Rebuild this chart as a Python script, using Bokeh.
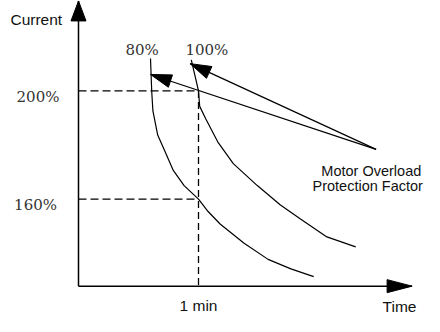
import numpy as np
from bokeh.plotting import figure
from bokeh.models import Range1d
from bokeh.core.properties import value
from bokeh.embed import file_html
from bokeh.resources import INLINE

# ---------------- data (time in minutes, current in % of rated) ----------------
curve_labels = ["80%", "100%"]
t_80 = [0.60, 0.61, 0.62, 0.66, 0.72, 0.79, 0.88, 1.00, 1.08, 1.18, 1.38, 1.58, 1.77, 1.96]
i_80 = [212.0, 200.0, 192.6, 183.7, 177.7, 170.6, 165.0, 160.0, 155.4, 150.8, 143.7, 137.7, 134.2, 131.3]
t_100 = [0.94, 1.00, 1.01, 1.06, 1.16, 1.29, 1.49, 1.68, 1.85, 2.07, 2.31]
i_100 = [211.5, 200.0, 194.3, 189.7, 181.2, 173.1, 165.0, 157.9, 152.6, 146.0, 142.3]

ref_time = 1.0
ref_time_label = "1 min"
ref_currents = [200, 160]
ref_current_labels = ["200%", "160%"]

origin_t, origin_i = 0.0, 127.8
time_axis_end = 2.78
current_axis_end = 233.3
x_title = "Time"
y_title = "Current"

pointer_tip_t = [0.93, 0.60]
pointer_tip_i = [210.1, 206.1]
pointer_tail_t, pointer_tail_i = 2.48, 178.4
note_lines = ["Motor Overload", "Protection Factor"]

# ---------------- figure ----------------
W, H = 424, 316
X0, X1 = -0.65, 2.8833
Y0, Y1 = 116.57, 233.46
SX = W / (X1 - X0)
SY = H / (Y1 - Y0)

p = figure(width=W, height=H, output_backend="svg", toolbar_location=None,
           x_axis_type=None, y_axis_type=None,
           x_range=Range1d(X0, X1), y_range=Range1d(Y0, Y1),
           min_border=0, outline_line_color=None)
p.grid.visible = False
p.background_fill_color = "white"
p.border_fill_color = "white"

SANS = value("Liberation Sans")
SERIF = value("DejaVu Serif")


def head(tip_t, tip_i, to_t, to_i, length, half):
    dx = (to_t - tip_t) * SX
    dy = (to_i - tip_i) * SY
    n = np.hypot(dx, dy)
    ux, uy = dx / n, dy / n
    bx, by = ux * length, uy * length
    px, py = -uy * half, ux * half
    xs = [tip_t, tip_t + (bx + px) / SX, tip_t + (bx - px) / SX]
    ys = [tip_i, tip_i + (by + py) / SY, tip_i + (by - py) / SY]
    return xs, ys


# dashed reference lines
for c in ref_currents:
    p.line([origin_t, ref_time], [c, c], line_color="black", line_width=1.3, line_dash="8 4")
p.line([ref_time, ref_time], [max(ref_currents), origin_i], line_color="black",
       line_width=1.3, line_dash="7 4")

# curves
p.line(t_80, i_80, line_color="black", line_width=1.2)
p.line(t_100, i_100, line_color="black", line_width=1.2)

# axes with arrowheads
p.line([origin_t, origin_t], [origin_i, current_axis_end], line_color="black", line_width=1.5)
p.line([origin_t, time_axis_end], [origin_i, origin_i], line_color="black", line_width=1.5)
hx, hy = head(origin_t, current_axis_end, origin_t, origin_i, 20, 7.5)
vx, vy = head(time_axis_end, origin_i, origin_t, origin_i, 25, 6.5)

# pointer arrows
px_list, py_list = [hx, vx], [hy, vy]
for tt, ti in zip(pointer_tip_t, pointer_tip_i):
    p.line([pointer_tail_t, tt], [pointer_tail_i, ti], line_color="black", line_width=1.2)
    ax, ay = head(tt, ti, pointer_tail_t, pointer_tail_i, 21, 6.5)
    px_list.append(ax)
    py_list.append(ay)
p.patches(px_list, py_list, fill_color="black", line_color="black", line_width=1)

# serif labels
p.text(x=[0.53, 1.07], y=[215.0, 215.0], text=curve_labels, text_font=SERIF,
       text_font_size="15px", text_align="center", text_baseline="alphabetic",
       text_color="#333333")
p.text(x=[-0.3375, -0.358], y=[c - 2.1 for c in ref_currents], text=ref_current_labels,
       text_font=SERIF, text_font_size="15px", text_align="center",
       text_baseline="alphabetic", text_color="#333333")

# sans labels
p.text(x=[-0.567], y=[226.4], text=[y_title], text_font=SANS, text_font_size="15.5px",
       text_align="left", text_baseline="alphabetic", text_color="#111111")
p.text(x=[ref_time, 2.675], y=[120.7, 120.4], text=[ref_time_label, x_title],
       text_font=SANS, text_font_size="15.5px", text_align="center",
       text_baseline="alphabetic", text_color="#111111")
p.text(x=[2.44, 2.41], y=[170.3, 165.0], text=note_lines, text_font=SANS,
       text_font_size="14.5px", text_align="center", text_baseline="alphabetic",
       text_color="#111111")

open("out.html", "w").write(file_html(p, INLINE))
